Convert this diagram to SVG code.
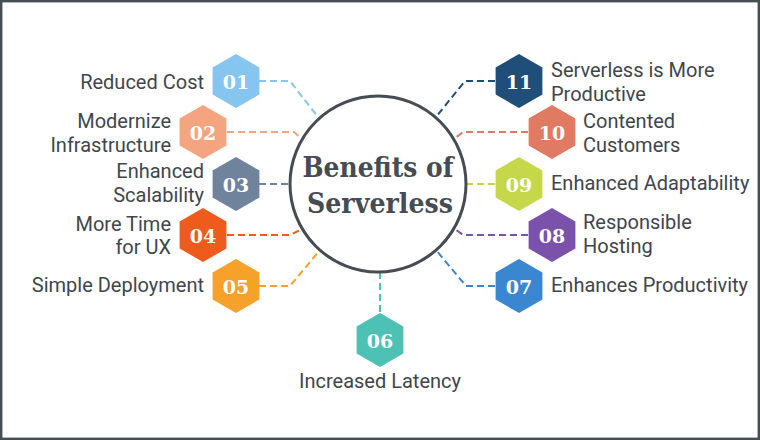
<svg xmlns="http://www.w3.org/2000/svg" xmlns:xlink="http://www.w3.org/1999/xlink" width="760" height="440" viewBox="0 0 760 440">
  <style>
    .lbl { font-family: Roboto, "Liberation Sans", sans-serif; font-size: 20px; fill: #40464c; }
    .num { font-family: "DejaVu Serif", "Liberation Serif", serif; font-weight: bold; font-size: 19px; fill: #ffffff; text-anchor: middle; }
    .title { font-family: "DejaVu Serif", "Liberation Serif", serif; font-weight: bold; font-size: 27px; fill: #464c52; text-anchor: middle; }
    .con { fill: none; stroke-width: 2; stroke-dasharray: 7 4; }
    .r { text-anchor: end; }
  </style>
  <defs>
    <polygon id="hex" points="0,-27 23.4,-13.5 23.4,13.5 0,27 -23.4,13.5 -23.4,-13.5"/>
  </defs>
  <rect x="0" y="0" width="760" height="440" fill="#ffffff"/>
  <rect x="1.2" y="1.2" width="757.6" height="437.6" fill="none" stroke="#464d53" stroke-width="2.4"/>

  <g id="connectors">
    <polyline class="con" stroke="#85c5f0" points="259,81 290,81 318,117"/>
    <polyline class="con" stroke="#f4a47f" points="227,132 294,132 302,139"/>
    <polyline class="con" stroke="#6f849c" points="259,184 290,184"/>
    <polyline class="con" stroke="#ef5b1c" points="227,235 290,235 302,229"/>
    <polyline class="con" stroke="#f5a12a" points="259,286 290,286 320,250"/>
    <polyline class="con" stroke="#4dc1b4" points="380,272 380,313"/>
    <polyline class="con" stroke="#3b86d0" points="495,286 466,286 436,250"/>
    <polyline class="con" stroke="#7b52ab" points="528,235 463,235 455,229"/>
    <polyline class="con" stroke="#c6d84a" points="495,184 466,184"/>
    <polyline class="con" stroke="#e07a63" points="528,132 463,132 454,139"/>
    <polyline class="con" stroke="#1f4e78" points="495,81 465,81 436,117"/>
  </g>

  <g id="center">
    <circle cx="378" cy="184" r="88" fill="#ffffff" stroke="#464c52" stroke-width="3"/>
    <text class="title" x="378" y="177" textLength="151" lengthAdjust="spacingAndGlyphs">Benefits of</text>
    <text class="title" x="380" y="213" textLength="146" lengthAdjust="spacingAndGlyphs">Serverless</text>
  </g>

  <g id="n01">
    <use xlink:href="#hex" x="236" y="81" fill="#85c5f0"/>
    <text class="num" x="236" y="88.5">01</text>
    <text class="lbl r" x="204" y="89">Reduced Cost</text>
  </g>
  <g id="n02">
    <use xlink:href="#hex" x="203" y="132" fill="#f4a47f"/>
    <text class="num" x="203" y="139.5">02</text>
    <text class="lbl r" x="171" y="128">Modernize</text>
    <text class="lbl r" x="171" y="152">Infrastructure</text>
  </g>
  <g id="n03">
    <use xlink:href="#hex" x="236" y="184" fill="#6f849c"/>
    <text class="num" x="236" y="191.5">03</text>
    <text class="lbl r" x="204" y="178">Enhanced</text>
    <text class="lbl r" x="204" y="202">Scalability</text>
  </g>
  <g id="n04">
    <use xlink:href="#hex" x="203" y="235" fill="#ef5b1c"/>
    <text class="num" x="203" y="242.5">04</text>
    <text class="lbl r" x="171" y="231">More Time</text>
    <text class="lbl r" x="171" y="254">for UX</text>
  </g>
  <g id="n05">
    <use xlink:href="#hex" x="236" y="286" fill="#f5a12a"/>
    <text class="num" x="236" y="293.5">05</text>
    <text class="lbl r" x="204" y="292">Simple Deployment</text>
  </g>
  <g id="n06">
    <use xlink:href="#hex" x="380" y="340" fill="#4dc1b4"/>
    <text class="num" x="380" y="347.5">06</text>
    <text class="lbl" x="380" y="388" text-anchor="middle">Increased Latency</text>
  </g>
  <g id="n07">
    <use xlink:href="#hex" x="519" y="286" fill="#3b86d0"/>
    <text class="num" x="519" y="293.5">07</text>
    <text class="lbl" x="551" y="292">Enhances Productivity</text>
  </g>
  <g id="n08">
    <use xlink:href="#hex" x="552" y="235" fill="#7b52ab"/>
    <text class="num" x="552" y="242.5">08</text>
    <text class="lbl" x="583" y="229">Responsible</text>
    <text class="lbl" x="583" y="253">Hosting</text>
  </g>
  <g id="n09">
    <use xlink:href="#hex" x="519" y="184" fill="#c6d84a"/>
    <text class="num" x="519" y="191.5">09</text>
    <text class="lbl" x="551" y="190">Enhanced Adaptability</text>
  </g>
  <g id="n10">
    <use xlink:href="#hex" x="552" y="132" fill="#e07a63"/>
    <text class="num" x="552" y="139.5">10</text>
    <text class="lbl" x="583" y="128">Contented</text>
    <text class="lbl" x="583" y="152">Customers</text>
  </g>
  <g id="n11">
    <use xlink:href="#hex" x="519" y="81" fill="#1f4e78"/>
    <text class="num" x="519" y="88.5">11</text>
    <text class="lbl" x="551" y="77">Serverless is More</text>
    <text class="lbl" x="551" y="101">Productive</text>
  </g>
</svg>
